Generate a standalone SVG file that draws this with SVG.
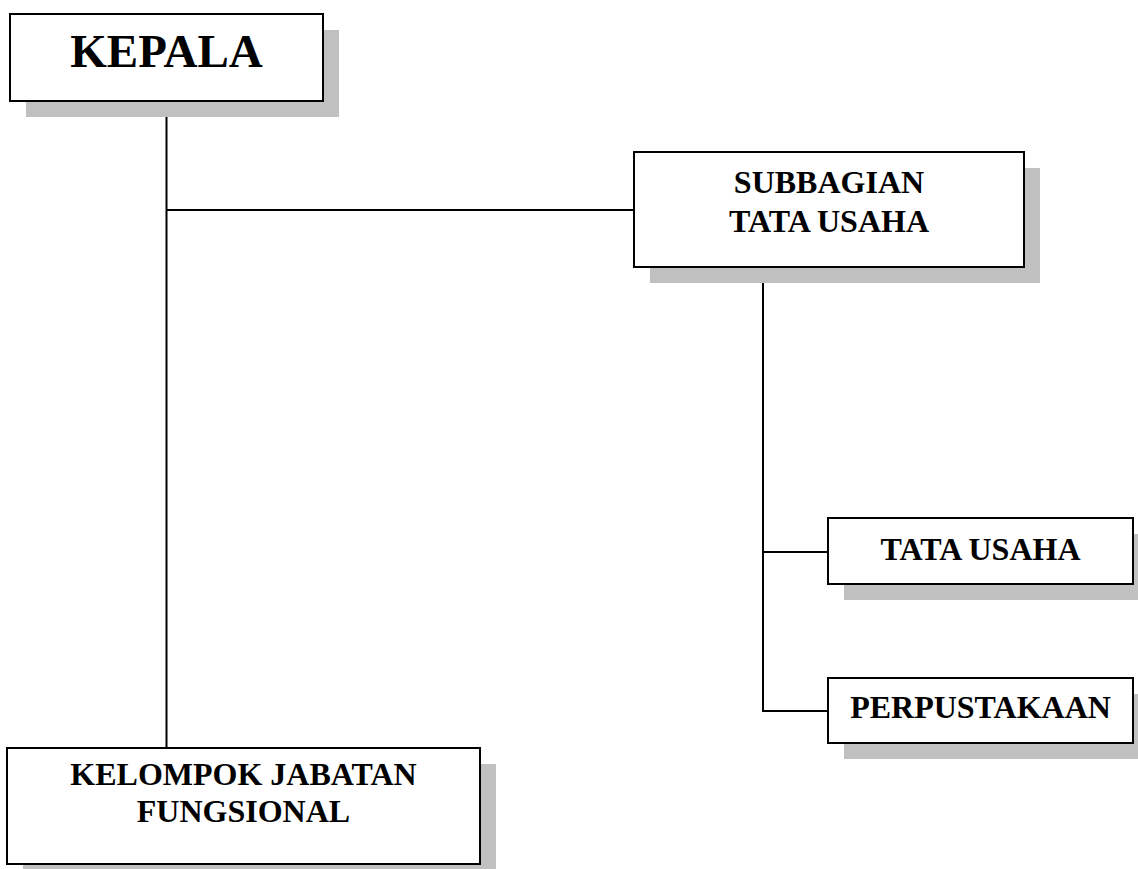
<svg xmlns="http://www.w3.org/2000/svg" width="1138" height="869" viewBox="0 0 1138 869">
<style>
.box{fill:#fff;stroke:#000;stroke-width:2}
.sh{fill:#c0c0c0}
.t{font-family:"Liberation Serif","Times New Roman",serif;font-weight:bold;text-anchor:middle;fill:#000}
.c{stroke:#000;stroke-width:2;fill:none}
</style>
<rect width="1138" height="869" fill="#fff"/>
<g id="connectors">
<line class="c" x1="166.5" y1="101" x2="166.5" y2="748"/>
<line class="c" x1="166.5" y1="210" x2="634" y2="210"/>
<polyline class="c" points="763,267 763,711 828,711"/>
<line class="c" x1="763" y1="552" x2="828" y2="552"/>
</g>
<g id="kepala">
<rect class="sh" x="26" y="30" width="313" height="87"/>
<rect class="box" x="10" y="14" width="313" height="87"/>
<text class="t" x="166.5" y="67" font-size="47">KEPALA</text>
</g>
<g id="subbagian">
<rect class="sh" x="650" y="168" width="390" height="115"/>
<rect class="box" x="634" y="152" width="390" height="115"/>
<text class="t" x="829" y="193" font-size="32">SUBBAGIAN</text>
<text class="t" x="829" y="232" font-size="32">TATA USAHA</text>
</g>
<g id="tatausaha">
<rect class="sh" x="844" y="534" width="305" height="66"/>
<rect class="box" x="828" y="518" width="305" height="66"/>
<text class="t" x="980.5" y="560" font-size="32">TATA USAHA</text>
</g>
<g id="perpustakaan">
<rect class="sh" x="844" y="694" width="305" height="65"/>
<rect class="box" x="828" y="678" width="305" height="65"/>
<text class="t" x="980.5" y="718" font-size="32">PERPUSTAKAAN</text>
</g>
<g id="kelompok">
<rect class="sh" x="23" y="764" width="473" height="116"/>
<rect class="box" x="7" y="748" width="473" height="116"/>
<text class="t" x="243.5" y="785" font-size="32">KELOMPOK JABATAN</text>
<text class="t" x="243.5" y="822" font-size="32">FUNGSIONAL</text>
</g>
</svg>
